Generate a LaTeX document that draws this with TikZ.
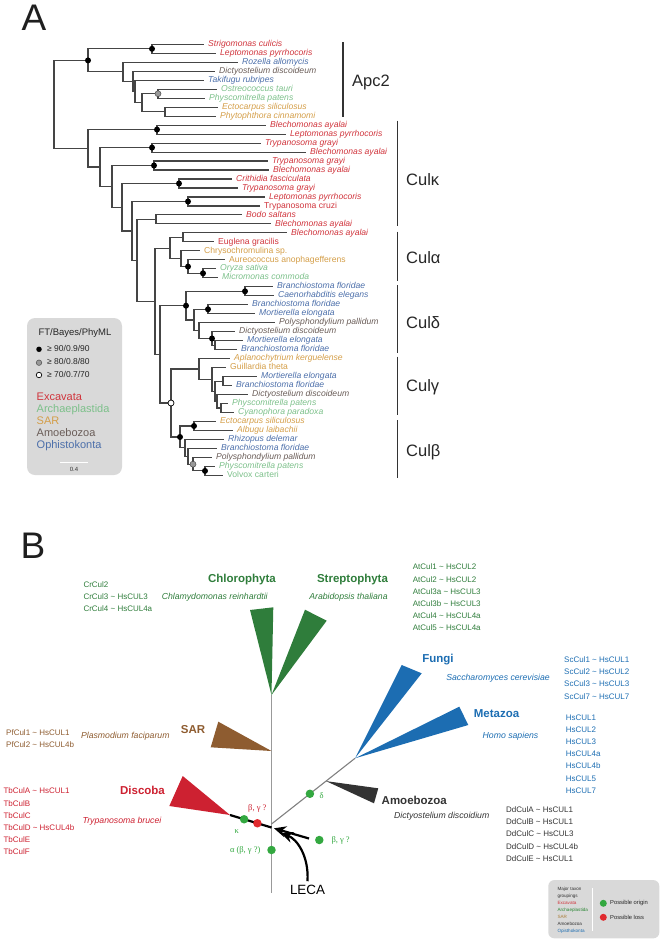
\documentclass[tikz,border=0pt]{standalone}
\usepackage{fontspec}
\setmainfont{Liberation Sans}
\newfontfamily\greekserif{Liberation Serif}
\usetikzlibrary{arrows.meta, calc}

\definecolor{excred}{HTML}{D0343C}
\definecolor{arcgreen}{HTML}{7CC08A}
\definecolor{sarorange}{HTML}{D49E48}
\definecolor{amogray}{HTML}{6A5D58}
\definecolor{opiblue}{HTML}{4C6FAA}
\definecolor{treegray}{HTML}{454545}
\definecolor{boxgray}{HTML}{D9D9D9}
\definecolor{chlgreen}{HTML}{2F7D3B}
\definecolor{fblue}{HTML}{1C6DB2}
\definecolor{sarbrown}{HTML}{8E5C30}
\definecolor{discred}{HTML}{CD2131}
\definecolor{amodark}{HTML}{333333}
\definecolor{dotgreen}{HTML}{33A840}
\definecolor{dotred}{HTML}{E02A2E}

\begin{document}
\begin{tikzpicture}[x=1pt, y=-1pt,
  br/.style={draw=treegray, line width=1.1pt},
  leaf/.style={anchor=west, inner xsep=4.5pt, inner ysep=0pt, text height=6pt,
               text depth=1.8pt, font=\fontsize{8.6}{9}\selectfont\itshape},
  lup/.style={leaf, font=\fontsize{8.6}{9}\selectfont},
  cEx/.style={text=excred}, cAr/.style={text=arcgreen}, cSa/.style={text=sarorange},
  cAm/.style={text=amogray}, cOp/.style={text=opiblue},
  dotbk/.style={circle, fill=black, inner sep=0pt, minimum size=6pt},
  dotgr/.style={dotbk, fill=black!40, draw=black!70, line width=0.5pt},
  dotwh/.style={dotbk, fill=white, draw=black, line width=0.7pt},
  clbar/.style={draw=black!80, line width=1.2pt},
  cllab/.style={anchor=base west, inner sep=0pt, text=black!85,
                font=\fontsize{16.5}{18}\selectfont},
  panlab/.style={anchor=base west, inner sep=0pt, text=black!88,
                 font=\fontsize{37}{40}\selectfont},
  thr/.style={anchor=west, inner sep=0pt, text height=6pt, text depth=1.8pt,
              text=black!85, font=\fontsize{8.5}{9}\selectfont},
  tax/.style={anchor=west, inner sep=0pt, text height=8pt, text depth=2.3pt,
              font=\fontsize{11}{12}\selectfont},
  trunk/.style={draw=black!40, line width=1.6pt},
  twig/.style={draw=black!50, line width=1.1pt},
  rootln/.style={draw=black, line width=2.2pt},
  rootarr/.style={rootln, -{Stealth[length=12pt, width=11pt]}},
  grp/.style={font=\bfseries\fontsize{11.5}{12}\selectfont},
  spc/.style={font=\itshape\fontsize{8.7}{9}\selectfont},
  cul/.style={anchor=north west, inner sep=0pt, align=left,
              font=\fontsize{8}{12.2}\selectfont},
  gdot/.style={circle, fill=dotgreen, inner sep=0pt, minimum size=8.5pt},
  rdot/.style={gdot, fill=dotred},
  greek/.style={font=\greekserif\fontsize{8.5}{9}\selectfont},
]
\useasboundingbox (0,0) rectangle (662,943);

% panel letters
\node[panlab] (labA) at (21.5,30) {A};
\node[panlab] (labB) at (20.5,558.3) {B};

% ---------- panel A: leaves ----------
\node[leaf, cEx] (l1) at (203.5,44.3) {Strigomonas culicis};
\node[leaf, cEx] (l2) at (215.5,53.3) {Leptomonas pyrrhocoris};
\node[leaf, cOp] (l3) at (237.5,62.3) {Rozella allomycis};
\node[leaf, cAm] (l4) at (214.5,71.2) {Dictyostelium discoideum};
\node[leaf, cOp] (l5) at (203.5,80.2) {Takifugu rubripes};
\node[leaf, cAr] (l6) at (216.5,89.2) {Ostreococcus tauri};
\node[leaf, cAr] (l7) at (204.5,98.2) {Physcomitrella patens};
\node[leaf, cSa] (l8) at (217.5,107.2) {Ectocarpus siliculosus};
\node[leaf, cSa] (l9) at (215.5,116.1) {Phytophthora cinnamomi};
\node[leaf, cEx] (l10) at (265.5,125.1) {Blechomonas ayalai};
\node[leaf, cEx] (l11) at (285.5,134.1) {Leptomonas pyrrhocoris};
\node[leaf, cEx] (l12) at (260.5,143.1) {Trypanosoma grayi};
\node[leaf, cEx] (l13) at (305.5,152.1) {Blechomonas ayalai};
\node[leaf, cEx] (l14) at (267.5,161.0) {Trypanosoma grayi};
\node[leaf, cEx] (l15) at (268.5,170.0) {Blechomonas ayalai};
\node[leaf, cEx] (l16) at (231.5,179.0) {Crithidia fasciculata};
\node[leaf, cEx] (l17) at (237.5,188.0) {Trypanosoma grayi};
\node[leaf, cEx] (l18) at (264.5,197.0) {Leptomonas pyrrhocoris};
\node[lup, cEx] (l19) at (259.5,206.0) {Trypanosoma cruzi};
\node[leaf, cEx] (l20) at (241.5,214.9) {Bodo saltans};
\node[leaf, cEx] (l21) at (270.5,223.9) {Blechomonas ayalai};
\node[leaf, cEx] (l22) at (286.5,232.9) {Blechomonas ayalai};
\node[lup, cEx] (l23) at (213.5,241.9) {Euglena gracilis};
\node[lup, cSa] (l24) at (199.5,250.9) {Chrysochromulina sp.};
\node[lup, cSa] (l25) at (224.5,259.9) {Aureococcus anophagefferens};
\node[leaf, cAr] (l26) at (215.5,268.8) {Oryza sativa};
\node[leaf, cAr] (l27) at (217.5,277.8) {Micromonas commoda};
\node[leaf, cOp] (l28) at (272.5,286.8) {Branchiostoma floridae};
\node[leaf, cOp] (l29) at (273.5,295.8) {Caenorhabditis elegans};
\node[leaf, cOp] (l30) at (247.5,304.8) {Branchiostoma floridae};
\node[leaf, cOp] (l31) at (254.5,313.7) {Mortierella elongata};
\node[leaf, cAm] (l32) at (274.5,322.7) {Polysphondylium pallidum};
\node[leaf, cAm] (l33) at (234.5,331.7) {Dictyostelium discoideum};
\node[leaf, cOp] (l34) at (242.5,340.7) {Mortierella elongata};
\node[leaf, cOp] (l35) at (236.5,349.7) {Branchiostoma floridae};
\node[leaf, cSa] (l36) at (229.5,358.6) {Aplanochytrium kerguelense};
\node[lup, cSa] (l37) at (225.5,367.6) {Guillardia theta};
\node[leaf, cOp] (l38) at (256.5,376.6) {Mortierella elongata};
\node[leaf, cOp] (l39) at (231.5,385.6) {Branchiostoma floridae};
\node[leaf, cAm] (l40) at (247.5,394.6) {Dictyostelium discoideum};
\node[leaf, cAr] (l41) at (227.5,403.5) {Physcomitrella patens};
\node[leaf, cAr] (l42) at (233.5,412.5) {Cyanophora paradoxa};
\node[leaf, cSa] (l43) at (215.5,421.5) {Ectocarpus siliculosus};
\node[leaf, cSa] (l44) at (232.5,430.5) {Albugu laibachii};
\node[leaf, cOp] (l45) at (223.5,439.5) {Rhizopus delemar};
\node[leaf, cOp] (l46) at (216.5,448.4) {Branchiostoma floridae};
\node[leaf, cAm] (l47) at (211.5,457.4) {Polysphondylium pallidum};
\node[leaf, cAr] (l48) at (214.5,466.4) {Physcomitrella patens};
\node[lup, cAr] (l49) at (222.5,475.4) {Volvox carteri};

% ---------- panel A: internal nodes ----------
\coordinate (r0) at (54,104.4);
\coordinate (aA) at (88,60.4);     \coordinate (a12) at (152,48.8);
\coordinate (aB) at (123,71.9);    \coordinate (aC) at (133,81.4);
\coordinate (aD) at (135,91.5);    \coordinate (aE) at (142,102.7);
\coordinate (a67) at (158,93.7);   \coordinate (a89) at (165,111.7);
\coordinate (k1) at (88,148.3);    \coordinate (a1011) at (157,129.6);
\coordinate (k2) at (100,167);     \coordinate (a1213) at (152,147.6);
\coordinate (k3) at (112,186.4);   \coordinate (a1415) at (154,165.5);
\coordinate (k4) at (122,207.2);   \coordinate (a1617) at (179,183.5);
\coordinate (k5) at (132,231);     \coordinate (a1819) at (188,201.5);
\coordinate (k6) at (137,260.4);   \coordinate (a2021) at (156,219.4);
\coordinate (k7) at (155,301.3);   \coordinate (al1) at (170,248.1);
\coordinate (a2223) at (183,237.4); \coordinate (al2) at (181,258.8);
\coordinate (al3) at (188,266.6);  \coordinate (a2627) at (203,273.3);
\coordinate (k8) at (160,354.4);   \coordinate (ad1) at (186,305.7);
\coordinate (a2829) at (245,291.3); \coordinate (ad2) at (194,320);
\coordinate (a3031) at (208,309.3); \coordinate (ad3) at (199,330.6);
\coordinate (ad4) at (212,338.5);  \coordinate (a3435) at (215,345.2);
\coordinate (ag1) at (171,403);    \coordinate (ag2) at (199,369);
\coordinate (ag3) at (212,379.4);  \coordinate (ag4) at (215,391.2);
\coordinate (a3839) at (223,381.1); \coordinate (ag5) at (217,401.3);
\coordinate (a4142) at (221,408);  \coordinate (ab1) at (180,437);
\coordinate (a4344) at (194,426);  \coordinate (ab2) at (185,447.9);
\coordinate (ab3) at (188,456.3);  \coordinate (ab4) at (193,464.2);
\coordinate (a4849) at (205,470.9);

% branches
\draw[br] (r0) |- (aA) (r0) |- (k1);
\draw[br] (aA) |- (a12) (aA) |- (aB);
\draw[br] (a12) |- (l1.west) (a12) |- (l2.west);
\draw[br] (aB) |- (l3.west) (aB) |- (aC);
\draw[br] (aC) |- (l4.west) (aC) |- (aD);
\draw[br] (aD) |- (l5.west) (aD) |- (aE);
\draw[br] (aE) |- (a67) (aE) |- (a89);
\draw[br] (a67) |- (l6.west) (a67) |- (l7.west);
\draw[br] (a89) |- (l8.west) (a89) |- (l9.west);
\draw[br] (k1) |- (a1011) (k1) |- (k2);
\draw[br] (a1011) |- (l10.west) (a1011) |- (l11.west);
\draw[br] (k2) |- (a1213) (k2) |- (k3);
\draw[br] (a1213) |- (l12.west) (a1213) |- (l13.west);
\draw[br] (k3) |- (a1415) (k3) |- (k4);
\draw[br] (a1415) |- (l14.west) (a1415) |- (l15.west);
\draw[br] (k4) |- (a1617) (k4) |- (k5);
\draw[br] (a1617) |- (l16.west) (a1617) |- (l17.west);
\draw[br] (k5) |- (a1819) (k5) |- (k6);
\draw[br] (a1819) |- (l18.west) (a1819) |- (l19.west);
\draw[br] (k6) |- (a2021) (k6) |- (k7);
\draw[br] (a2021) |- (l20.west) (a2021) |- (l21.west);
\draw[br] (k7) |- (al1) (k7) |- (k8);
\draw[br] (al1) |- (a2223) (al1) |- (al2);
\draw[br] (a2223) |- (l22.west) (a2223) |- (l23.west);
\draw[br] (al2) |- (l24.west) (al2) |- (al3);
\draw[br] (al3) |- (l25.west) (al3) |- (a2627);
\draw[br] (a2627) |- (l26.west) (a2627) |- (l27.west);
\draw[br] (k8) |- (ad1) (k8) |- (ag1);
\draw[br] (ad1) |- (a2829) (ad1) |- (ad2);
\draw[br] (a2829) |- (l28.west) (a2829) |- (l29.west);
\draw[br] (ad2) |- (a3031) (ad2) |- (ad3);
\draw[br] (a3031) |- (l30.west) (a3031) |- (l31.west);
\draw[br] (ad3) |- (l32.west) (ad3) |- (ad4);
\draw[br] (ad4) |- (l33.west) (ad4) |- (a3435);
\draw[br] (a3435) |- (l34.west) (a3435) |- (l35.west);
\draw[br] (ag1) |- (ag2) (ag1) |- (ab1);
\draw[br] (ag2) |- (l36.west) (ag2) |- (ag3);
\draw[br] (ag3) |- (l37.west) (ag3) |- (ag4);
\draw[br] (ag4) |- (a3839) (ag4) |- (ag5);
\draw[br] (a3839) |- (l38.west) (a3839) |- (l39.west);
\draw[br] (ag5) |- (l40.west) (ag5) |- (a4142);
\draw[br] (a4142) |- (l41.west) (a4142) |- (l42.west);
\draw[br] (ab1) |- (a4344) (ab1) |- (ab2);
\draw[br] (a4344) |- (l43.west) (a4344) |- (l44.west);
\draw[br] (ab2) |- (l45.west) (ab2) |- (ab3);
\draw[br] (ab3) |- (l46.west) (ab3) |- (ab4);
\draw[br] (ab4) |- (l47.west) (ab4) |- (a4849);
\draw[br] (a4849) |- (l48.west) (a4849) |- (l49.west);

% support dots
\node[dotbk] (s12) at (a12) {};     \node[dotbk] (sA) at (aA) {};
\node[dotgr] (s67) at (a67) {};     \node[dotbk] (s1011) at (a1011) {};
\node[dotbk] (s1213) at (a1213) {}; \node[dotbk] (s1415) at (a1415) {};
\node[dotbk] (s1617) at (a1617) {}; \node[dotbk] (s1819) at (a1819) {};
\node[dotbk] (sl3) at (al3) {};     \node[dotbk] (s2627) at (a2627) {};
\node[dotbk] (sd1) at (ad1) {};     \node[dotbk] (s2829) at (a2829) {};
\node[dotbk] (s3031) at (a3031) {}; \node[dotbk] (sd4) at (ad4) {};
\node[dotwh] (sg1) at (ag1) {};     \node[dotbk] (sb1) at (ab1) {};
\node[dotbk] (s4344) at (a4344) {}; \node[dotgr] (sb4) at (ab4) {};
\node[dotbk] (s4849) at (a4849) {};

% clade brackets
\coordinate (apT) at (343,42);    \coordinate (apB) at (343,117);
\coordinate (kaT) at (397.3,120.7); \coordinate (kaB) at (397.3,226);
\coordinate (alT) at (397.3,231.7); \coordinate (alB) at (397.3,280.7);
\coordinate (deT) at (397.3,285);   \coordinate (deB) at (397.3,352.7);
\coordinate (gaT) at (397.3,356.7); \coordinate (gaB) at (397.3,415);
\coordinate (beT) at (397.3,420);   \coordinate (beB) at (397.3,478.3);
\draw[clbar] (apT) -- (apB);
\draw[clbar] (kaT) -- (kaB);
\draw[clbar] (alT) -- (alB);
\draw[clbar] (deT) -- (deB);
\draw[clbar] (gaT) -- (gaB);
\draw[clbar] (beT) -- (beB);
\node[cllab] (tApc) at (352,86) {Apc2};
\node[cllab] (tKa) at (406,185) {Culκ};
\node[cllab] (tAl) at (406,263.3) {Culα};
\node[cllab] (tDe) at (406,328.3) {Culδ};
\node[cllab] (tGa) at (406,391.7) {Culγ};
\node[cllab] (tBe) at (406,456.7) {Culβ};

% legend A
\node[fill=boxgray, rounded corners=8pt, minimum width=95pt, minimum height=157pt,
      inner sep=0pt] (legA) at (74.5,396.5) {};
\node[text=black!85, font=\fontsize{9.5}{10}\selectfont] (hdr) at (75,333) {FT/Bayes/PhyML};
\node[dotbk, minimum size=5.5pt] (k90) at (39,349.3) {};
\node[dotgr, minimum size=5.5pt] (k80) at (39,362.7) {};
\node[dotwh, minimum size=5.5pt] (k70) at (39,375) {};
\node[thr] (t90) at (47,349.3) {≥ 90/0.9/90};
\node[thr] (t80) at (47,362.7) {≥ 80/0.8/80};
\node[thr] (t70) at (47,375) {≥ 70/0.7/70};
\node[tax, text=excred] (tEx) at (36.5,397.7) {Excavata};
\node[tax, text=arcgreen] (tAr) at (36.5,410) {Archaeplastida};
\node[tax, text=sarorange] (tSa) at (36.5,421.7) {SAR};
\node[tax, text=amogray] (tAm) at (36.5,434) {Amoebozoa};
\node[tax, text=opiblue] (tOp) at (36.5,446) {Ophistokonta};
\coordinate (sbL) at (60,462.3); \coordinate (sbR) at (88,462.3);
\draw[white, line width=1pt] (sbL) -- (sbR);
\node[text=black!80, font=\fontsize{6}{7}\selectfont] (sbt) at (74,469.5) {0.4};

% ---------- panel B: unrooted tree ----------
\coordinate (trT) at (271.5,695);
\coordinate (trB) at (271.5,893);
\coordinate (jx) at (271.5,824);
\coordinate (jfm) at (355,758.3);
\coordinate (jam) at ($(jx)!0.653!(jfm)$);
\coordinate (jr) at (271.5,827.5);
\coordinate (disc) at (230,815);
\coordinate (sarA) at (271.5,751);
\draw[trunk] (trT) -- (trB);
\draw[twig] (jx) -- (jfm);
% clade wedges
\fill[chlgreen] (trT) -- (250,610) -- (273.3,607.3) -- cycle;
\fill[chlgreen] (trT) -- (305,609.7) -- (326.7,620.7) -- cycle;
\fill[sarbrown] (sarA) -- (218.3,721.7) -- (210.7,747.3) -- cycle;
\fill[discred] (disc) -- (182.7,776) -- (169.3,806) -- cycle;
\fill[amodark] (jam) -- (378.3,788.3) -- (374,803.3) -- cycle;
\fill[fblue] (jfm) -- (401.7,665) -- (421.7,673.3) -- cycle;
\fill[fblue] (jfm) -- (459.3,706.7) -- (468.3,725) -- cycle;
% root and LECA
\coordinate (rtail) at (309,838.5);
\coordinate (rtip) at (274,828.3);
\draw[rootln] (disc) -- (jr);
\draw[rootarr] (rtail) -- (rtip);
\node[font=\fontsize{13.4}{14}\selectfont] (leca) at (307.5,889.5) {LECA};
\coordinate (lecatip) at (281,833);
\draw[rootarr] (leca.north) .. controls (309,856) and (297,839) .. (lecatip);
% origin / loss marks
\node[gdot] (dK) at ($(disc)!0.34!(jr)$) {};
\node[rdot] (dL) at ($(disc)!0.66!(jr)$) {};
\node[gdot] (dA) at (271.5,850) {};
\node[gdot] (dD) at ($(jx)!0.46!(jfm)$) {};
\node[gdot] (dR) at (319.3,840) {};
\node[greek, text=dotgreen] (tK) at (236.7,831.5) {κ};
\node[greek, text=discred] (tL) at (257.3,808.3) {β, γ ?};
\node[greek, text=dotgreen, anchor=east] (tA) at (264,850) {α (β, γ ?)};
\node[greek, text=dotgreen] (tD) at (321.7,796) {δ};
\node[greek, text=dotgreen, anchor=west] (tR) at (328,840.5) {β, γ ?};

% group names and species
\node[grp, text=chlgreen] (gChl) at (242,579.3) {Chlorophyta};
\node[grp, text=chlgreen] (gStr) at (352.5,580) {Streptophyta};
\node[grp, text=sarbrown] (gSar) at (193,730) {SAR};
\node[grp, text=discred] (gDis) at (142.5,790.7) {Discoba};
\node[grp, text=fblue] (gFun) at (438,660) {Fungi};
\node[grp, text=fblue] (gMet) at (496.5,714) {Metazoa};
\node[grp, text=amodark] (gAmo) at (414.3,800) {Amoebozoa};
\node[spc, text=chlgreen] (sChl) at (214.7,597.5) {Chlamydomonas reinhardtii};
\node[spc, text=chlgreen] (sStr) at (348.5,597.5) {Arabidopsis thaliana};
\node[spc, text=sarbrown] (sSar) at (125.3,736) {Plasmodium faciparum};
\node[spc, text=discred] (sDis) at (122,821.7) {Trypanosoma brucei};
\node[spc, text=fblue] (sFun) at (498,678.3) {Saccharomyces cerevisiae};
\node[spc, text=fblue] (sMet) at (510.5,736) {Homo sapiens};
\node[spc, text=amodark] (sAmo) at (441.7,816.7) {Dictyostelium discoidium};

% cullin lists
\node[cul, text=chlgreen] (cCr) at (83.3,581.4)
  {CrCul2\\CrCul3 \textasciitilde{} HsCUL3\\CrCul4 \textasciitilde{} HsCUL4a};
\node[cul, text=chlgreen] (cAt) at (412.7,563.8)
  {AtCul1 \textasciitilde{} HsCUL2\\AtCul2 \textasciitilde{} HsCUL2\\AtCul3a \textasciitilde{} HsCUL3\\
   AtCul3b \textasciitilde{} HsCUL3\\AtCul4 \textasciitilde{} HsCUL4a\\AtCul5 \textasciitilde{} HsCUL4a};
\node[cul, text=sarbrown] (cPf) at (6,729.4)
  {PfCul1 \textasciitilde{} HsCUL1\\PfCul2 \textasciitilde{} HsCUL4b};
\node[cul, text=discred] (cTb) at (3.3,787.8)
  {TbCulA \textasciitilde{} HsCUL1\\TbCulB\\TbCulC\\TbCulD \textasciitilde{} HsCUL4b\\TbCulE\\TbCulF};
\node[cul, text=fblue] (cSc) at (564,656.4)
  {ScCul1 \textasciitilde{} HsCUL1\\ScCul2 \textasciitilde{} HsCUL2\\ScCul3 \textasciitilde{} HsCUL3\\ScCul7 \textasciitilde{} HsCUL7};
\node[cul, text=fblue] (cHs) at (565.7,714.4)
  {HsCUL1\\HsCUL2\\HsCUL3\\HsCUL4a\\HsCUL4b\\HsCUL5\\HsCUL7};
\node[cul, text=amodark] (cDd) at (506,806.4)
  {DdCulA \textasciitilde{} HsCUL1\\DdCulB \textasciitilde{} HsCUL1\\DdCulC \textasciitilde{} HsCUL3\\
   DdCulD \textasciitilde{} HsCUL4b\\DdCulE \textasciitilde{} HsCUL1};

% legend B
\node[fill=boxgray, rounded corners=6pt, minimum width=111pt, minimum height=58.3pt,
      inner sep=0pt] (legB) at (603.8,909.2) {};
\node[cul, text=black!80, font=\fontsize{4.6}{7}\selectfont] (legBt) at (557.3,886.5)
  {Major taxon\\groupings\\\textcolor{excred}{Excavata}\\\textcolor{dotgreen!80!black}{Archaeplastida}\\
   \textcolor{sarorange!80!black}{SAR}\\\textcolor{amodark}{Amoebozoa}\\\textcolor{fblue}{Opisthokonta}};
\coordinate (sepT) at (592.3,888); \coordinate (sepB) at (592.3,931);
\draw[white, line width=1.5pt] (sepT) -- (sepB);
\node[gdot, minimum size=7pt] (lgO) at (603.3,903.3) {};
\node[rdot, minimum size=7pt] (lgL) at (603.3,917.3) {};
\node[anchor=west, inner sep=0pt, text=black!85, font=\fontsize{5.8}{7}\selectfont] (lgOt) at (610,903.3) {Possible origin};
\node[anchor=west, inner sep=0pt, text=black!85, font=\fontsize{5.8}{7}\selectfont] (lgLt) at (610,917.3) {Possible loss};
\end{tikzpicture}
\end{document}
